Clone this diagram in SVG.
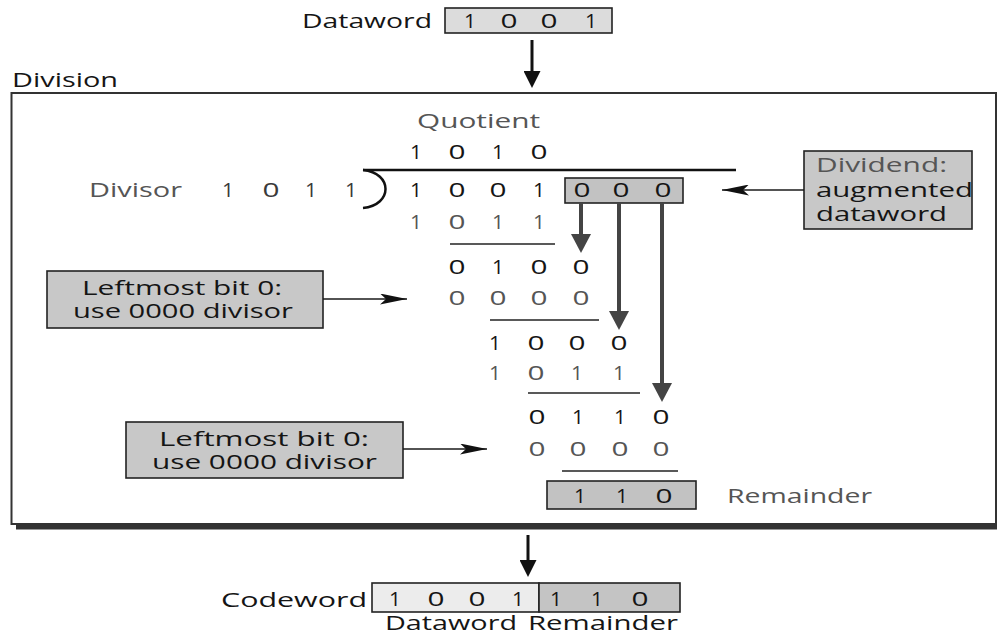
<svg xmlns="http://www.w3.org/2000/svg" width="997" height="639" viewBox="0 0 997 639">
  <style>
    text { font-family: "Open Sans", "Liberation Sans", sans-serif; font-size: 20px; }
    .k { fill: #151515; }
    .g { fill: #555; }
    .m { fill: #3a3a3a; }
    .d { text-anchor: middle; }
    .box { stroke: #222; stroke-width: 1.6; }
    .sub { stroke: #222; stroke-width: 1.6; }
    .thin { stroke: #1a1a1a; stroke-width: 1.5; fill: none; }
    .bold { stroke: #111; stroke-width: 3; fill: none; }
    .grey { stroke: #444; stroke-width: 4; fill: none; }
  </style>
  <defs>
    <marker id="headK" viewBox="0 0 17 17" refX="9" refY="8.5" markerWidth="17" markerHeight="17" markerUnits="userSpaceOnUse" orient="auto">
      <path d="M0,0 L17,8.5 L0,17 z" fill="#111"/>
    </marker>
    <marker id="headG" viewBox="0 0 19 20" refX="11" refY="10" markerWidth="19" markerHeight="20" markerUnits="userSpaceOnUse" orient="auto">
      <path d="M0,0 L19,10 L0,20 z" fill="#444"/>
    </marker>
    <marker id="headT" viewBox="0 0 27 11" refX="27" refY="5.5" markerWidth="27" markerHeight="11" markerUnits="userSpaceOnUse" orient="auto">
      <path d="M0,0 L27,5.5 L0,11 L6,5.5 z" fill="#111"/>
    </marker>
  </defs>

  <rect width="997" height="639" fill="#fff"/>

  <!-- input dataword -->
  <g id="dataword-in">
    <text class="k" x="302" y="28" textLength="130" lengthAdjust="spacingAndGlyphs">Dataword</text>
    <rect class="box" x="445" y="8" width="167" height="25" fill="#dcdcdc"/>
    <text class="k d" x="470" y="28" textLength="12" lengthAdjust="spacingAndGlyphs">1</text>
    <text class="k d" x="509" y="28" textLength="17" lengthAdjust="spacingAndGlyphs">0</text>
    <text class="k d" x="549" y="28" textLength="17" lengthAdjust="spacingAndGlyphs">0</text>
    <text class="k d" x="591" y="28" textLength="12" lengthAdjust="spacingAndGlyphs">1</text>
  </g>

  <!-- division frame -->
  <g id="division">
    <text class="k" x="12" y="87" textLength="106" lengthAdjust="spacingAndGlyphs">Division</text>
    <rect x="16" y="525" width="981" height="4.5" fill="#333"/>
    <rect x="11.5" y="93" width="984.5" height="431" fill="none" stroke="#333" stroke-width="2"/>
  </g>

  <!-- quotient -->
  <g id="quotient">
    <text class="g" x="417" y="128" textLength="123" lengthAdjust="spacingAndGlyphs">Quotient</text>
    <text class="k d" x="416" y="159" textLength="12" lengthAdjust="spacingAndGlyphs">1</text>
    <text class="k d" x="457" y="159" textLength="17" lengthAdjust="spacingAndGlyphs">0</text>
    <text class="k d" x="498" y="159" textLength="12" lengthAdjust="spacingAndGlyphs">1</text>
    <text class="k d" x="539" y="159" textLength="17" lengthAdjust="spacingAndGlyphs">0</text>
    <line x1="363" y1="170" x2="736" y2="170" stroke="#111" stroke-width="2.5"/>
  </g>

  <!-- divisor -->
  <g id="divisor">
    <text class="g" x="89" y="197" textLength="93" lengthAdjust="spacingAndGlyphs">Divisor</text>
    <text class="m d" x="228" y="197" textLength="12" lengthAdjust="spacingAndGlyphs">1</text>
    <text class="m d" x="271" y="197" textLength="17" lengthAdjust="spacingAndGlyphs">0</text>
    <text class="m d" x="311" y="197" textLength="12" lengthAdjust="spacingAndGlyphs">1</text>
    <text class="m d" x="351" y="197" textLength="12" lengthAdjust="spacingAndGlyphs">1</text>
    <path d="M363,170 C393,173 393,205 363,208" fill="none" stroke="#111" stroke-width="2.5"/>
  </g>

  <!-- dividend with appended zeros -->
  <g id="dividend">
    <text class="k d" x="416" y="197" textLength="12" lengthAdjust="spacingAndGlyphs">1</text>
    <text class="k d" x="457" y="197" textLength="17" lengthAdjust="spacingAndGlyphs">0</text>
    <text class="k d" x="498" y="197" textLength="17" lengthAdjust="spacingAndGlyphs">0</text>
    <text class="k d" x="539" y="197" textLength="12" lengthAdjust="spacingAndGlyphs">1</text>
    <rect class="box" x="565" y="178" width="118" height="25" fill="#c2c2c2"/>
    <text class="k d" x="582" y="197" textLength="17" lengthAdjust="spacingAndGlyphs">0</text>
    <text class="k d" x="621" y="197" textLength="17" lengthAdjust="spacingAndGlyphs">0</text>
    <text class="k d" x="663" y="197" textLength="17" lengthAdjust="spacingAndGlyphs">0</text>
  </g>

  <!-- subtraction steps -->
  <g id="steps">
    <text class="g d" x="416" y="229" textLength="12" lengthAdjust="spacingAndGlyphs">1</text>
    <text class="g d" x="457" y="229" textLength="17" lengthAdjust="spacingAndGlyphs">0</text>
    <text class="g d" x="498" y="229" textLength="12" lengthAdjust="spacingAndGlyphs">1</text>
    <text class="g d" x="539" y="229" textLength="12" lengthAdjust="spacingAndGlyphs">1</text>
    <line class="sub" x1="450" y1="244" x2="555" y2="244"/>

    <text class="k d" x="457" y="274" textLength="17" lengthAdjust="spacingAndGlyphs">0</text>
    <text class="k d" x="498" y="274" textLength="12" lengthAdjust="spacingAndGlyphs">1</text>
    <text class="k d" x="539" y="274" textLength="17" lengthAdjust="spacingAndGlyphs">0</text>
    <text class="k d" x="581" y="274" textLength="17" lengthAdjust="spacingAndGlyphs">0</text>
    <text class="g d" x="457" y="305" textLength="17" lengthAdjust="spacingAndGlyphs">0</text>
    <text class="g d" x="498" y="305" textLength="17" lengthAdjust="spacingAndGlyphs">0</text>
    <text class="g d" x="539" y="305" textLength="17" lengthAdjust="spacingAndGlyphs">0</text>
    <text class="g d" x="581" y="305" textLength="17" lengthAdjust="spacingAndGlyphs">0</text>
    <line class="sub" x1="490" y1="320" x2="599" y2="320"/>

    <text class="k d" x="495" y="350" textLength="12" lengthAdjust="spacingAndGlyphs">1</text>
    <text class="k d" x="536" y="350" textLength="17" lengthAdjust="spacingAndGlyphs">0</text>
    <text class="k d" x="577" y="350" textLength="17" lengthAdjust="spacingAndGlyphs">0</text>
    <text class="k d" x="619" y="350" textLength="17" lengthAdjust="spacingAndGlyphs">0</text>
    <text class="g d" x="495" y="380" textLength="12" lengthAdjust="spacingAndGlyphs">1</text>
    <text class="g d" x="536" y="380" textLength="17" lengthAdjust="spacingAndGlyphs">0</text>
    <text class="g d" x="577" y="380" textLength="12" lengthAdjust="spacingAndGlyphs">1</text>
    <text class="g d" x="619" y="380" textLength="12" lengthAdjust="spacingAndGlyphs">1</text>
    <line class="sub" x1="528" y1="393" x2="640" y2="393"/>

    <text class="k d" x="537" y="424" textLength="17" lengthAdjust="spacingAndGlyphs">0</text>
    <text class="k d" x="578" y="424" textLength="12" lengthAdjust="spacingAndGlyphs">1</text>
    <text class="k d" x="620" y="424" textLength="12" lengthAdjust="spacingAndGlyphs">1</text>
    <text class="k d" x="661" y="424" textLength="17" lengthAdjust="spacingAndGlyphs">0</text>
    <text class="g d" x="537" y="456" textLength="17" lengthAdjust="spacingAndGlyphs">0</text>
    <text class="g d" x="578" y="456" textLength="17" lengthAdjust="spacingAndGlyphs">0</text>
    <text class="g d" x="620" y="456" textLength="17" lengthAdjust="spacingAndGlyphs">0</text>
    <text class="g d" x="661" y="456" textLength="17" lengthAdjust="spacingAndGlyphs">0</text>
    <line class="sub" x1="562" y1="471" x2="678" y2="471"/>
  </g>

  <!-- remainder -->
  <g id="remainder">
    <rect class="box" x="547" y="481" width="149" height="28" fill="#c2c2c2"/>
    <text class="k d" x="580" y="503" textLength="12" lengthAdjust="spacingAndGlyphs">1</text>
    <text class="k d" x="622" y="503" textLength="12" lengthAdjust="spacingAndGlyphs">1</text>
    <text class="k d" x="664" y="503" textLength="17" lengthAdjust="spacingAndGlyphs">0</text>
    <text class="g" x="727" y="503" textLength="145" lengthAdjust="spacingAndGlyphs">Remainder</text>
  </g>

  <!-- note: augmented dataword -->
  <g id="note-dividend">
    <rect class="box" x="804" y="151" width="168" height="78" fill="#c8c8c8"/>
    <text class="g" x="816" y="172" font-size="22" textLength="131" lengthAdjust="spacingAndGlyphs">Dividend:</text>
    <text class="k" x="816" y="197" font-size="22" textLength="157" lengthAdjust="spacingAndGlyphs">augmented</text>
    <text class="k" x="816" y="221" font-size="22" textLength="131" lengthAdjust="spacingAndGlyphs">dataword</text>
  </g>

  <!-- note: first zero divisor -->
  <g id="note-zero-1">
    <rect class="box" x="47" y="271" width="276" height="57" fill="#c8c8c8"/>
    <text class="k" x="82" y="295" textLength="200" lengthAdjust="spacingAndGlyphs">Leftmost bit 0:</text>
    <text class="k" x="73" y="318" textLength="220" lengthAdjust="spacingAndGlyphs">use 0000 divisor</text>
  </g>

  <!-- note: second zero divisor -->
  <g id="note-zero-2">
    <rect class="box" x="126" y="422" width="277" height="56" fill="#c8c8c8"/>
    <text class="k" x="159" y="446" textLength="210" lengthAdjust="spacingAndGlyphs">Leftmost bit 0:</text>
    <text class="k" x="152" y="469" textLength="225" lengthAdjust="spacingAndGlyphs">use 0000 divisor</text>
  </g>

  <!-- output codeword -->
  <g id="codeword">
    <text class="k" x="221" y="607" textLength="146" lengthAdjust="spacingAndGlyphs">Codeword</text>
    <rect class="box" x="372" y="583" width="167" height="29" fill="#ececec"/>
    <rect class="box" x="539" y="583" width="141" height="29" fill="#c4c4c4"/>
    <text class="k d" x="395" y="606" textLength="12" lengthAdjust="spacingAndGlyphs">1</text>
    <text class="k d" x="436" y="606" textLength="17" lengthAdjust="spacingAndGlyphs">0</text>
    <text class="k d" x="477" y="606" textLength="17" lengthAdjust="spacingAndGlyphs">0</text>
    <text class="k d" x="518" y="606" textLength="12" lengthAdjust="spacingAndGlyphs">1</text>
    <text class="k d" x="556" y="606" textLength="12" lengthAdjust="spacingAndGlyphs">1</text>
    <text class="k d" x="597" y="606" textLength="12" lengthAdjust="spacingAndGlyphs">1</text>
    <text class="k d" x="640" y="606" textLength="17" lengthAdjust="spacingAndGlyphs">0</text>
    <text class="k" x="385" y="630" textLength="132" lengthAdjust="spacingAndGlyphs">Dataword</text>
    <text class="k" x="528" y="630" textLength="150" lengthAdjust="spacingAndGlyphs">Remainder</text>
  </g>

  <!-- connectors -->
  <g id="connectors">
    <line class="bold" x1="532" y1="40" x2="532" y2="80" marker-end="url(#headK)"/>
    <line class="bold" x1="528" y1="535" x2="528" y2="569" marker-end="url(#headK)"/>
    <line class="grey" x1="581" y1="203" x2="581" y2="245" marker-end="url(#headG)"/>
    <line class="grey" x1="619" y1="203" x2="619" y2="322" marker-end="url(#headG)"/>
    <line class="grey" x1="662" y1="203" x2="662" y2="394" marker-end="url(#headG)"/>
    <line class="thin" x1="804" y1="190" x2="722" y2="190" marker-end="url(#headT)"/>
    <line class="thin" x1="323" y1="299" x2="407" y2="299" marker-end="url(#headT)"/>
    <line class="thin" x1="403" y1="449" x2="487" y2="449" marker-end="url(#headT)"/>
  </g>
</svg>
